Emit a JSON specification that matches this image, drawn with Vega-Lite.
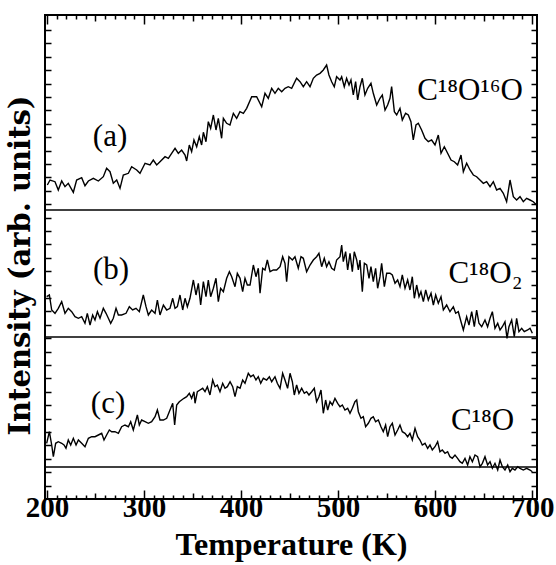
{
"$schema":"https://vega.github.io/schema/vega-lite/v6.json",
"width":492,"height":484,
"autosize":{"type":"none"},
"padding":{"left":45,"top":15,"right":19,"bottom":66},
"background":"white",
"config":{"view":{"stroke":"black","strokeWidth":2},"font":"Liberation Serif"},
"datasets":{
"curves":[
{"p":"a","T":200.4,"I":314},{"p":"a","T":203.2,"I":319},{"p":"a","T":208.3,"I":317.3},{"p":"a","T":211.7,"I":309},{"p":"a","T":215.2,"I":318},{"p":"a","T":218.6,"I":312.3},{"p":"a","T":222.0,"I":315.7},{"p":"a","T":227.2,"I":306.7},{"p":"a","T":230.6,"I":319},{"p":"a","T":235.8,"I":321.3},{"p":"a","T":239.2,"I":313.3},{"p":"a","T":242.7,"I":318},{"p":"a","T":247.8,"I":320.7},{"p":"a","T":253.0,"I":318},{"p":"a","T":258.1,"I":322.3},{"p":"a","T":261.5,"I":330.7},{"p":"a","T":265.0,"I":327.3},{"p":"a","T":268.4,"I":315.7},{"p":"a","T":271.9,"I":319},{"p":"a","T":275.3,"I":310.7},{"p":"a","T":278.7,"I":324},{"p":"a","T":283.9,"I":325.7},{"p":"a","T":287.3,"I":332.3},{"p":"a","T":292.5,"I":329},{"p":"a","T":295.9,"I":325.7},{"p":"a","T":301.1,"I":335.7},{"p":"a","T":306.2,"I":334},{"p":"a","T":309.6,"I":339},{"p":"a","T":313.1,"I":334},{"p":"a","T":316.5,"I":337.3},{"p":"a","T":321.7,"I":342.3},{"p":"a","T":325.1,"I":340.7},{"p":"a","T":328.5,"I":345.7},{"p":"a","T":332.0,"I":350.7},{"p":"a","T":335.4,"I":345.7},{"p":"a","T":338.8,"I":349},{"p":"a","T":342.3,"I":344},{"p":"a","T":344.0,"I":338},{"p":"a","T":346.7,"I":354},{"p":"a","T":349.1,"I":347.3},{"p":"a","T":351.5,"I":359},{"p":"a","T":354.3,"I":352.3},{"p":"a","T":357.0,"I":362.3},{"p":"a","T":359.4,"I":354},{"p":"a","T":361.2,"I":366.7},{"p":"a","T":363.9,"I":357.3},{"p":"a","T":366.3,"I":377.3},{"p":"a","T":368.7,"I":370.7},{"p":"a","T":371.5,"I":384},{"p":"a","T":374.2,"I":369},{"p":"a","T":376.6,"I":380.7},{"p":"a","T":380.0,"I":360.7},{"p":"a","T":381.8,"I":380.7},{"p":"a","T":385.2,"I":375.7},{"p":"a","T":388.6,"I":374},{"p":"a","T":392.1,"I":385.7},{"p":"a","T":395.5,"I":380.7},{"p":"a","T":398.9,"I":387.3},{"p":"a","T":402.4,"I":385.7},{"p":"a","T":405.8,"I":390.7},{"p":"a","T":411.0,"I":402.3},{"p":"a","T":416.1,"I":402.3},{"p":"a","T":421.3,"I":392.3},{"p":"a","T":424.7,"I":405.7},{"p":"a","T":428.1,"I":400.7},{"p":"a","T":431.6,"I":410.7},{"p":"a","T":435.0,"I":405.7},{"p":"a","T":438.4,"I":410.7},{"p":"a","T":441.9,"I":407.3},
{"p":"a","T":445.3,"I":410.7},{"p":"a","T":448.7,"I":412.3},{"p":"a","T":452.2,"I":410.7},{"p":"a","T":457.3,"I":420.7},{"p":"a","T":460.8,"I":417.3},{"p":"a","T":464.2,"I":412.3},{"p":"a","T":467.6,"I":417.3},{"p":"a","T":471.1,"I":412.3},{"p":"a","T":474.5,"I":420.7},{"p":"a","T":477.9,"I":424},{"p":"a","T":481.4,"I":425.7},{"p":"a","T":484.8,"I":429},{"p":"a","T":488.2,"I":434},{"p":"a","T":490.6,"I":424},{"p":"a","T":493.4,"I":417.3},{"p":"a","T":496.1,"I":412.3},{"p":"a","T":498.5,"I":422.3},{"p":"a","T":502.0,"I":419},{"p":"a","T":503.7,"I":422.3},{"p":"a","T":506.4,"I":412.3},{"p":"a","T":508.8,"I":420.7},{"p":"a","T":511.3,"I":414},{"p":"a","T":513.3,"I":419},{"p":"a","T":515.7,"I":404},{"p":"a","T":518.1,"I":417.3},{"p":"a","T":520.2,"I":399},{"p":"a","T":522.6,"I":412.3},{"p":"a","T":525.0,"I":420.7},{"p":"a","T":527.7,"I":404},{"p":"a","T":530.5,"I":410.7},{"p":"a","T":533.9,"I":415.7},{"p":"a","T":536.3,"I":405.7},{"p":"a","T":539.8,"I":394},{"p":"a","T":543.2,"I":400.7},{"p":"a","T":545.6,"I":404},{"p":"a","T":548.4,"I":389},{"p":"a","T":551.1,"I":394},{"p":"a","T":553.5,"I":400.7},{"p":"a","T":555.2,"I":412.3},{"p":"a","T":558.0,"I":387.3},{"p":"a","T":560.4,"I":384},{"p":"a","T":563.8,"I":390.7},{"p":"a","T":566.2,"I":379},{"p":"a","T":569.6,"I":385.7},{"p":"a","T":572.4,"I":384},{"p":"a","T":575.1,"I":377.3},{"p":"a","T":577.5,"I":359},{"p":"a","T":580.3,"I":374},{"p":"a","T":582.7,"I":375.7},{"p":"a","T":586.1,"I":369},{"p":"a","T":589.6,"I":360.7},{"p":"a","T":593.0,"I":357.3},{"p":"a","T":596.4,"I":359},{"p":"a","T":599.9,"I":354},{"p":"a","T":603.3,"I":364},{"p":"a","T":606.1,"I":345.7},{"p":"a","T":609.5,"I":352.3},{"p":"a","T":612.9,"I":345.7},{"p":"a","T":616.4,"I":339},{"p":"a","T":619.8,"I":337.3},{"p":"a","T":623.2,"I":334},{"p":"a","T":626.7,"I":344},{"p":"a","T":629.1,"I":327.3},{"p":"a","T":632.5,"I":335.7},{"p":"a","T":636.0,"I":329},{"p":"a","T":639.4,"I":324},{"p":"a","T":642.8,"I":322.3},{"p":"a","T":646.2,"I":319},{"p":"a","T":649.7,"I":315.7},{"p":"a","T":653.1,"I":317.3},{"p":"a","T":656.6,"I":312.3},{"p":"a","T":660.0,"I":317.3},{"p":"a","T":663.4,"I":309},{"p":"a","T":666.9,"I":310.7},{"p":"a","T":670.3,"I":305.7},{"p":"a","T":673.7,"I":297.3},{"p":"a","T":677.2,"I":319},{"p":"a","T":680.6,"I":302.3},{"p":"a","T":684.0,"I":299},{"p":"a","T":687.5,"I":302.3},{"p":"a","T":690.9,"I":297.3},{"p":"a","T":694.3,"I":300.7},{"p":"a","T":697.8,"I":299},{"p":"a","T":701.2,"I":297.3},{"p":"a","T":704.6,"I":294},
{"p":"b","T":199.7,"I":202.3},{"p":"b","T":202.5,"I":204},{"p":"b","T":204.9,"I":189},{"p":"b","T":208.3,"I":185.7},{"p":"b","T":211.7,"I":190.7},{"p":"b","T":215.2,"I":197.3},{"p":"b","T":218.6,"I":185.7},{"p":"b","T":222.0,"I":190.7},{"p":"b","T":225.5,"I":187.3},{"p":"b","T":228.9,"I":182.3},{"p":"b","T":232.4,"I":180.7},{"p":"b","T":235.8,"I":182.3},{"p":"b","T":239.2,"I":175.7},{"p":"b","T":241.6,"I":185.7},{"p":"b","T":244.4,"I":174},{"p":"b","T":247.1,"I":184},{"p":"b","T":249.5,"I":179},{"p":"b","T":252.0,"I":187.3},{"p":"b","T":254.7,"I":180.7},{"p":"b","T":258.1,"I":190.7},{"p":"b","T":260.9,"I":185.7},{"p":"b","T":263.3,"I":180.7},{"p":"b","T":265.7,"I":175.7},{"p":"b","T":268.4,"I":180.7},{"p":"b","T":271.2,"I":190.7},{"p":"b","T":273.6,"I":184},{"p":"b","T":277.0,"I":184},{"p":"b","T":281.5,"I":185.7},{"p":"b","T":284.9,"I":192.3},{"p":"b","T":288.3,"I":189},{"p":"b","T":291.8,"I":190.7},{"p":"b","T":295.2,"I":187.3},{"p":"b","T":299.3,"I":204},{"p":"b","T":302.1,"I":192.3},{"p":"b","T":304.5,"I":184},{"p":"b","T":307.9,"I":189},{"p":"b","T":311.4,"I":185.7},{"p":"b","T":313.8,"I":199},{"p":"b","T":316.5,"I":184},{"p":"b","T":320.0,"I":194},{"p":"b","T":323.4,"I":189},{"p":"b","T":326.8,"I":190.7},{"p":"b","T":329.6,"I":200.7},{"p":"b","T":332.0,"I":190.7},{"p":"b","T":334.4,"I":192.3},{"p":"b","T":337.1,"I":204},{"p":"b","T":339.9,"I":189},{"p":"b","T":342.3,"I":200.7},{"p":"b","T":344.7,"I":192.3},{"p":"b","T":347.4,"I":200.7},{"p":"b","T":350.9,"I":219},{"p":"b","T":353.6,"I":204},{"p":"b","T":356.0,"I":215.7},{"p":"b","T":358.4,"I":194},{"p":"b","T":361.2,"I":217.3},{"p":"b","T":363.9,"I":202.3},{"p":"b","T":366.3,"I":219},{"p":"b","T":368.7,"I":202.3},{"p":"b","T":371.5,"I":210.7},{"p":"b","T":374.2,"I":220.7},{"p":"b","T":376.6,"I":197.3},{"p":"b","T":379.0,"I":210.7},{"p":"b","T":381.8,"I":207.3},{"p":"b","T":385.2,"I":220.7},{"p":"b","T":388.0,"I":227.3},{"p":"b","T":390.4,"I":222.3},{"p":"b","T":393.8,"I":212.3},{"p":"b","T":396.2,"I":225.7},{"p":"b","T":399.0,"I":220.7},{"p":"b","T":401.7,"I":207.3},{"p":"b","T":404.1,"I":220.7},{"p":"b","T":406.5,"I":214},{"p":"b","T":409.3,"I":214},{"p":"b","T":412.7,"I":234},{"p":"b","T":415.4,"I":222.3},{"p":"b","T":417.8,"I":230.7},{"p":"b","T":419.6,"I":205.7},{"p":"b","T":422.3,"I":230.7},{"p":"b","T":424.7,"I":229},{"p":"b","T":427.1,"I":239},{"p":"b","T":429.9,"I":227.3},{"p":"b","T":433.3,"I":229},{"p":"b","T":436.7,"I":229},{"p":"b","T":440.2,"I":232.3},{"p":"b","T":442.9,"I":242.3},
{"p":"b","T":445.3,"I":235.7},{"p":"b","T":447.0,"I":217.3},{"p":"b","T":449.4,"I":242.3},{"p":"b","T":452.9,"I":239},{"p":"b","T":455.6,"I":242.3},{"p":"b","T":459.0,"I":230.7},{"p":"b","T":461.8,"I":242.3},{"p":"b","T":464.2,"I":240.7},{"p":"b","T":467.6,"I":227.3},{"p":"b","T":471.1,"I":234},{"p":"b","T":474.5,"I":239},{"p":"b","T":477.9,"I":242.3},{"p":"b","T":480.3,"I":245.7},{"p":"b","T":483.1,"I":232.3},{"p":"b","T":485.8,"I":240.7},{"p":"b","T":488.2,"I":232.3},{"p":"b","T":490.6,"I":237.3},{"p":"b","T":493.4,"I":230.7},{"p":"b","T":496.1,"I":229},{"p":"b","T":498.5,"I":239},{"p":"b","T":502.0,"I":242.3},{"p":"b","T":503.7,"I":254},{"p":"b","T":505.4,"I":237.3},{"p":"b","T":507.8,"I":247.3},{"p":"b","T":509.9,"I":229},{"p":"b","T":512.3,"I":245.7},{"p":"b","T":514.7,"I":227.3},{"p":"b","T":516.7,"I":247.3},{"p":"b","T":519.2,"I":239},{"p":"b","T":520.9,"I":229},{"p":"b","T":522.6,"I":239},{"p":"b","T":525.0,"I":207.3},{"p":"b","T":527.1,"I":235.7},{"p":"b","T":529.5,"I":234},{"p":"b","T":531.9,"I":220.7},{"p":"b","T":533.9,"I":232.3},{"p":"b","T":536.3,"I":217.3},{"p":"b","T":538.7,"I":230.7},{"p":"b","T":540.8,"I":210.7},{"p":"b","T":543.2,"I":222.3},{"p":"b","T":544.9,"I":235.7},{"p":"b","T":547.7,"I":212.3},{"p":"b","T":550.1,"I":225.7},{"p":"b","T":553.5,"I":225.7},{"p":"b","T":555.9,"I":224},{"p":"b","T":558.7,"I":215.7},{"p":"b","T":561.4,"I":219},{"p":"b","T":563.8,"I":212.3},{"p":"b","T":566.2,"I":224},{"p":"b","T":569.0,"I":210.7},{"p":"b","T":571.7,"I":219},{"p":"b","T":574.1,"I":209},{"p":"b","T":576.5,"I":222.3},{"p":"b","T":578.6,"I":200.7},{"p":"b","T":581.0,"I":214},{"p":"b","T":583.4,"I":202.3},{"p":"b","T":585.4,"I":207.3},{"p":"b","T":587.9,"I":197.3},{"p":"b","T":590.3,"I":209},{"p":"b","T":593.0,"I":199},{"p":"b","T":595.8,"I":205.7},{"p":"b","T":598.2,"I":194},{"p":"b","T":600.6,"I":204},{"p":"b","T":603.3,"I":195.7},{"p":"b","T":606.1,"I":202.3},{"p":"b","T":608.5,"I":189},{"p":"b","T":611.9,"I":194},{"p":"b","T":615.3,"I":187.3},{"p":"b","T":618.8,"I":192.3},{"p":"b","T":621.2,"I":185.7},{"p":"b","T":623.9,"I":187.3},{"p":"b","T":626.7,"I":177.3},{"p":"b","T":629.1,"I":169},{"p":"b","T":632.5,"I":182.3},{"p":"b","T":634.9,"I":174},{"p":"b","T":637.7,"I":187.3},{"p":"b","T":640.4,"I":172.3},{"p":"b","T":642.8,"I":189},{"p":"b","T":645.2,"I":175.7},{"p":"b","T":648.0,"I":172.3},{"p":"b","T":651.4,"I":179},{"p":"b","T":654.1,"I":172.3},{"p":"b","T":656.6,"I":180.7},{"p":"b","T":659.0,"I":187.3},{"p":"b","T":661.7,"I":170.7},{"p":"b","T":664.5,"I":175.7},{"p":"b","T":666.9,"I":169},{"p":"b","T":669.3,"I":172.3},{"p":"b","T":672.0,"I":177.3},{"p":"b","T":674.1,"I":160.7},{"p":"b","T":676.1,"I":172.3},{"p":"b","T":678.9,"I":179},{"p":"b","T":681.6,"I":162.3},{"p":"b","T":684.0,"I":180.7},{"p":"b","T":686.4,"I":167.3},{"p":"b","T":689.2,"I":170.7},{"p":"b","T":691.9,"I":167.3},{"p":"b","T":695.4,"I":169},{"p":"b","T":697.8,"I":170.7},{"p":"b","T":700.2,"I":165.7},
{"p":"c","T":199.7,"I":55.7},{"p":"c","T":202.5,"I":67.3},{"p":"c","T":204.9,"I":54},{"p":"c","T":206.6,"I":42.3},{"p":"c","T":209.0,"I":55.7},{"p":"c","T":211.7,"I":57.3},{"p":"c","T":215.2,"I":55.7},{"p":"c","T":217.6,"I":54},{"p":"c","T":219.6,"I":50.7},{"p":"c","T":222.0,"I":59},{"p":"c","T":224.5,"I":54},{"p":"c","T":227.2,"I":60.7},{"p":"c","T":230.0,"I":54},{"p":"c","T":232.4,"I":59},{"p":"c","T":235.8,"I":55.7},{"p":"c","T":239.2,"I":52.3},{"p":"c","T":242.7,"I":60.7},{"p":"c","T":246.1,"I":62.3},{"p":"c","T":249.5,"I":62.3},{"p":"c","T":253.0,"I":64},{"p":"c","T":256.4,"I":65.7},{"p":"c","T":258.8,"I":59},{"p":"c","T":261.5,"I":64},{"p":"c","T":264.3,"I":69},{"p":"c","T":266.7,"I":67.3},{"p":"c","T":270.1,"I":67.3},{"p":"c","T":273.6,"I":65.7},{"p":"c","T":277.0,"I":72.3},{"p":"c","T":280.4,"I":74},{"p":"c","T":283.9,"I":72.3},{"p":"c","T":286.3,"I":77.3},{"p":"c","T":289.0,"I":69},{"p":"c","T":291.8,"I":79},{"p":"c","T":293.2,"I":84},{"p":"c","T":295.2,"I":74},{"p":"c","T":297.6,"I":79},{"p":"c","T":301.1,"I":77.3},{"p":"c","T":304.5,"I":75.7},{"p":"c","T":307.9,"I":77.3},{"p":"c","T":311.4,"I":82.3},{"p":"c","T":313.8,"I":89},{"p":"c","T":316.5,"I":79},{"p":"c","T":320.0,"I":79},{"p":"c","T":323.4,"I":80.7},{"p":"c","T":326.8,"I":89},{"p":"c","T":329.6,"I":95.7},{"p":"c","T":331.6,"I":74},{"p":"c","T":333.7,"I":94},{"p":"c","T":336.4,"I":97.3},{"p":"c","T":338.8,"I":99},{"p":"c","T":341.2,"I":100.7},{"p":"c","T":344.0,"I":102.3},{"p":"c","T":346.7,"I":105.7},{"p":"c","T":349.1,"I":100.7},{"p":"c","T":351.5,"I":107.3},{"p":"c","T":352.6,"I":95.7},{"p":"c","T":355.0,"I":107.3},{"p":"c","T":357.7,"I":109},{"p":"c","T":360.5,"I":110.7},{"p":"c","T":362.9,"I":107.3},{"p":"c","T":365.3,"I":112.3},{"p":"c","T":368.0,"I":104},{"p":"c","T":370.8,"I":119},{"p":"c","T":373.2,"I":112.3},{"p":"c","T":375.6,"I":114},{"p":"c","T":378.3,"I":107.3},{"p":"c","T":381.1,"I":115.7},{"p":"c","T":383.5,"I":110.7},{"p":"c","T":385.9,"I":112.3},{"p":"c","T":388.7,"I":117.3},{"p":"c","T":391.4,"I":112.3},{"p":"c","T":393.8,"I":102.3},{"p":"c","T":396.2,"I":112.3},{"p":"c","T":399.0,"I":110.7},{"p":"c","T":401.7,"I":119},{"p":"c","T":404.1,"I":115.7},{"p":"c","T":407.5,"I":125.7},{"p":"c","T":410.0,"I":122.3},{"p":"c","T":412.7,"I":124},{"p":"c","T":415.4,"I":119},{"p":"c","T":417.8,"I":122.3},{"p":"c","T":420.3,"I":115.7},{"p":"c","T":423.0,"I":120.7},{"p":"c","T":426.4,"I":119},{"p":"c","T":429.2,"I":122.3},{"p":"c","T":431.6,"I":117.3},{"p":"c","T":435.0,"I":122.3},{"p":"c","T":437.4,"I":115.7},{"p":"c","T":440.2,"I":110.7},{"p":"c","T":442.9,"I":125.7},
{"p":"c","T":445.3,"I":119},{"p":"c","T":448.0,"I":110.7},{"p":"c","T":450.5,"I":125.7},{"p":"c","T":452.9,"I":117.3},{"p":"c","T":454.9,"I":104},{"p":"c","T":457.3,"I":114},{"p":"c","T":459.7,"I":105.7},{"p":"c","T":462.5,"I":110.7},{"p":"c","T":465.2,"I":105.7},{"p":"c","T":467.6,"I":107.3},{"p":"c","T":470.0,"I":104},{"p":"c","T":472.8,"I":107.3},{"p":"c","T":475.5,"I":110.7},{"p":"c","T":477.9,"I":97.3},{"p":"c","T":480.3,"I":102.3},{"p":"c","T":482.4,"I":109},{"p":"c","T":484.8,"I":85.7},{"p":"c","T":487.2,"I":99},{"p":"c","T":489.3,"I":89},{"p":"c","T":491.7,"I":97.3},{"p":"c","T":494.1,"I":94},{"p":"c","T":496.8,"I":100.7},{"p":"c","T":499.6,"I":95.7},{"p":"c","T":502.0,"I":92.3},{"p":"c","T":504.4,"I":94},{"p":"c","T":507.1,"I":89},{"p":"c","T":509.9,"I":90.7},{"p":"c","T":512.3,"I":85.7},{"p":"c","T":514.7,"I":90.7},{"p":"c","T":517.4,"I":97.3},{"p":"c","T":519.2,"I":99},{"p":"c","T":520.9,"I":87.3},{"p":"c","T":523.6,"I":80.7},{"p":"c","T":526.0,"I":82.3},{"p":"c","T":528.4,"I":72.3},{"p":"c","T":531.2,"I":75.7},{"p":"c","T":533.9,"I":80.7},{"p":"c","T":536.3,"I":82.3},{"p":"c","T":538.7,"I":77.3},{"p":"c","T":541.5,"I":79},{"p":"c","T":544.2,"I":72.3},{"p":"c","T":546.6,"I":67.3},{"p":"c","T":549.0,"I":74},{"p":"c","T":551.1,"I":62.3},{"p":"c","T":553.5,"I":72.3},{"p":"c","T":555.9,"I":75.7},{"p":"c","T":558.7,"I":64},{"p":"c","T":561.4,"I":69},{"p":"c","T":563.8,"I":74},{"p":"c","T":566.2,"I":67.3},{"p":"c","T":569.0,"I":65.7},{"p":"c","T":571.7,"I":62.3},{"p":"c","T":574.1,"I":65.7},{"p":"c","T":576.5,"I":59},{"p":"c","T":579.3,"I":70.7},{"p":"c","T":582.0,"I":62.3},{"p":"c","T":584.4,"I":59},{"p":"c","T":586.8,"I":54},{"p":"c","T":589.6,"I":55.7},{"p":"c","T":592.3,"I":50.7},{"p":"c","T":594.7,"I":54},{"p":"c","T":597.1,"I":49},{"p":"c","T":599.9,"I":52.3},{"p":"c","T":602.6,"I":57.3},{"p":"c","T":605.0,"I":47.3},{"p":"c","T":607.4,"I":49},{"p":"c","T":610.2,"I":45.7},{"p":"c","T":612.9,"I":47.3},{"p":"c","T":615.3,"I":42.3},{"p":"c","T":617.7,"I":40.7},{"p":"c","T":620.5,"I":44},{"p":"c","T":623.2,"I":40.7},{"p":"c","T":625.6,"I":37.3},{"p":"c","T":628.0,"I":35.7},{"p":"c","T":630.8,"I":40.7},{"p":"c","T":633.5,"I":34},{"p":"c","T":635.9,"I":42.3},{"p":"c","T":638.4,"I":37.3},{"p":"c","T":641.1,"I":44},{"p":"c","T":643.8,"I":42.3},{"p":"c","T":646.3,"I":32.3},{"p":"c","T":648.7,"I":35.7},{"p":"c","T":651.4,"I":42.3},{"p":"c","T":654.1,"I":34},{"p":"c","T":656.6,"I":37.3},{"p":"c","T":659.0,"I":30.7},{"p":"c","T":661.7,"I":35.7},{"p":"c","T":664.5,"I":29},{"p":"c","T":666.9,"I":39},{"p":"c","T":669.3,"I":32.3},{"p":"c","T":672.0,"I":29},{"p":"c","T":674.8,"I":34},{"p":"c","T":677.2,"I":27.3},{"p":"c","T":679.6,"I":30.7},{"p":"c","T":682.3,"I":29},{"p":"c","T":685.1,"I":32.3},{"p":"c","T":687.5,"I":30.7},{"p":"c","T":690.9,"I":29},{"p":"c","T":694.3,"I":30.7},{"p":"c","T":697.8,"I":29},{"p":"c","T":700.2,"I":27.3}
],
"baselines":[{"p":"a","I":289},{"p":"b","I":162},{"p":"c","I":32}],
"labels":[
{"label":"(a)","T":265,"I":353},{"label":"(b)","T":266,"I":220},{"label":"(c)","T":263,"I":86},
{"label":"C¹⁸O¹⁶O","T":636,"I":399},{"label":"C¹⁸O₂","T":652,"I":216},{"label":"C¹⁸O","T":649,"I":69}
]
},
"resolve":{"axis":{"x":"independent","y":"independent"}},
"layer":[
{"data":{"name":"curves"},
 "mark":{"type":"line","color":"black","strokeWidth":1.4},
 "encoding":{
  "x":{"field":"T","type":"quantitative","scale":{"domain":[198,705],"nice":false,"zero":false},
   "axis":{"orient":"bottom","values":[200,210,220,230,240,250,260,270,280,290,300,310,320,330,340,350,360,370,380,390,400,410,420,430,440,450,460,470,480,490,500,510,520,530,540,550,560,570,580,590,600,610,620,630,640,650,660,670,680,690,700],
    "labelExpr":"datum.value % 100 === 0 ? datum.label : ''","labelOverlap":false,"labelFont":"Liberation Serif","labelFontSize":29,"labelFontWeight":"bold","labelColor":"black","labelPadding":3,
    "tickSize":{"condition":[{"test":"datum.value % 100 === 0","value":-9},{"test":"datum.value % 50 === 0","value":-6}],"value":-4},
    "tickColor":"black","tickWidth":1.5,"domain":false,"grid":false,
    "title":"Temperature (K)","titleFont":"Liberation Serif","titleFontSize":32,"titleFontWeight":"bold","titleColor":"black","titlePadding":2}},
  "y":{"field":"I","type":"quantitative","scale":{"domain":[0,484],"nice":false},
   "axis":{"orient":"left","values":[13.4,26.8,40.2,53.6,67,80.4,93.8,107.2,120.6,134,147.4,160.8,174.2,187.6,201,214.4,227.8,241.2,254.6,268,281.4,294.8,308.2,321.6,335,348.4,361.8,375.2,388.6,402,415.4,428.8,442.2,455.6,469],
    "labels":false,"tickSize":-6,"tickColor":"black","tickWidth":1.5,"domain":false,"grid":false,
    "title":"Intensity (arb. units)","titleFont":"DejaVu Serif","titleFontSize":29,"titleFontWeight":"bold","titleColor":"black","titlePadding":9,"titleY":250}},
  "detail":{"field":"p"}}},
{"data":{"name":"baselines"},
 "mark":{"type":"rule","color":"black","strokeWidth":1.5},
 "encoding":{"y":{"field":"I","type":"quantitative","axis":null}}},
{"data":{"name":"labels"},
 "mark":{"type":"text","font":"Liberation Serif","fontSize":31,"align":"center","baseline":"alphabetic","color":"black"},
 "encoding":{
  "x":{"field":"T","type":"quantitative",
   "axis":{"orient":"top","values":[200,210,220,230,240,250,260,270,280,290,300,310,320,330,340,350,360,370,380,390,400,410,420,430,440,450,460,470,480,490,500,510,520,530,540,550,560,570,580,590,600,610,620,630,640,650,660,670,680,690,700],
    "labels":false,"tickSize":{"condition":[{"test":"datum.value % 100 === 0","value":-9},{"test":"datum.value % 50 === 0","value":-6}],"value":-4},
    "tickColor":"black","tickWidth":1.5,"domain":false,"grid":false,"title":null}},
  "y":{"field":"I","type":"quantitative",
   "axis":{"orient":"right","values":[13.4,26.8,40.2,53.6,67,80.4,93.8,107.2,120.6,134,147.4,160.8,174.2,187.6,201,214.4,227.8,241.2,254.6,268,281.4,294.8,308.2,321.6,335,348.4,361.8,375.2,388.6,402,415.4,428.8,442.2,455.6,469],
    "labels":false,"tickSize":-6,"tickColor":"black","tickWidth":1.5,"domain":false,"grid":false,"title":null}},
  "text":{"field":"label"}}}
]
}
